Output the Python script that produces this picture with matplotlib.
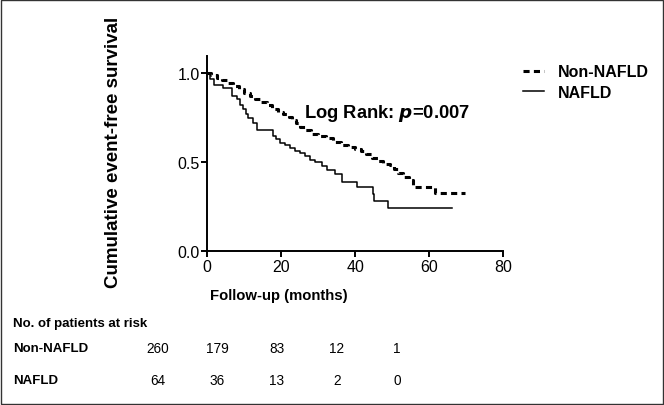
"""Kaplan-Meier style event-free survival: Non-NAFLD vs NAFLD."""

import matplotlib
matplotlib.use('Agg')
import matplotlib.pyplot as plt
from matplotlib.patches import Rectangle

# step curves (months, cumulative event-free survival)
non_nafld_t = [0, 1, 2.5, 4, 5.5, 7, 8.5, 10, 11.5, 13, 14.5, 16, 17.5, 19, 20.5,
               22, 23, 24, 25, 26.5, 28, 30, 32, 34, 36, 38, 40, 41.5, 43, 44.5,
               46, 47.5, 49.5, 50.5, 51.5, 53, 54.5, 55.5, 61.5, 69.6]
non_nafld_s = [1.0, 0.99, 0.975, 0.96, 0.945, 0.93, 0.91, 0.89, 0.87, 0.855, 0.84,
               0.82, 0.80, 0.785, 0.77, 0.755, 0.74, 0.72, 0.70, 0.68, 0.66, 0.65,
               0.635, 0.615, 0.598, 0.585, 0.575, 0.565, 0.545, 0.525, 0.505, 0.49,
               0.485, 0.46, 0.44, 0.42, 0.40, 0.36, 0.33, 0.33]

nafld_t = [0, 0.7, 1.9, 4.3, 6.6, 7.9, 8.8, 9.7, 10.5, 11.1, 12.4, 13.3, 17.8,
           18.7, 19.6, 21, 22.3, 23.7, 25, 26.4, 27.7, 29.2, 30.9, 32.4, 34.5,
           36.3, 40.4, 44.7, 45.1, 48.8, 66]
nafld_s = [1.0, 0.97, 0.935, 0.915, 0.87, 0.855, 0.82, 0.80, 0.77, 0.75, 0.72,
           0.68, 0.65, 0.63, 0.61, 0.595, 0.58, 0.565, 0.55, 0.535, 0.515, 0.50,
           0.48, 0.455, 0.434, 0.391, 0.36, 0.322, 0.284, 0.242, 0.242]

# numbers at risk
risk_groups = ['Non-NAFLD', 'NAFLD']
risk_non_nafld = [260, 179, 83, 12, 1]
risk_nafld = [64, 36, 13, 2, 0]

W, H = 664, 406


def fx(px):
    return px / W


def fy(py):
    return 1 - py / H


plt.rcParams['font.family'] = ['Liberation Sans', 'DejaVu Sans']

fig = plt.figure(figsize=(W / 100, H / 100), dpi=100)
fig.patches.append(Rectangle((fx(1), fy(H - 1)), fx(W - 2), (H - 2) / H,
                             transform=fig.transFigure, fill=False,
                             edgecolor='#333333', lw=1.0))

ax = fig.add_axes([fx(207.3), fy(252.3), fx(296), 195.8 / H])
ax.plot(non_nafld_t, non_nafld_s, drawstyle='steps-post', color='black',
        lw=2.2, dashes=(2.0, 1.4), label='Non-NAFLD')
ax.plot(nafld_t, nafld_s, drawstyle='steps-post', color='black',
        lw=1.1, label='NAFLD')

ax.set_xlim(0, 80)
ax.set_ylim(0, 1.1)
ax.set_xticks([0, 20, 40, 60, 80])
ax.set_yticks([0.0, 0.5, 1.0])
ax.set_yticklabels(['0.0', '0.5', '1.0'])
for s in ['top', 'right']:
    ax.spines[s].set_visible(False)
for s in ['left', 'bottom']:
    ax.spines[s].set_linewidth(1.4)
ax.tick_params(direction='out', length=4, width=1.4, labelsize=11.5, pad=1.5)

ax.set_xlabel('Follow-up (months)', fontsize=10.7, fontweight='bold')
ax.xaxis.set_label_coords(0.242, -0.185)
ax.set_ylabel('Cumulative event-free survival', fontsize=13.5,
              fontweight='bold')
ax.yaxis.set_label_coords(-0.288, 0.512)

ax.text(26.1, 0.777, 'Log Rank: $\\boldsymbol{p}$=0.007', fontsize=13.2,
        fontweight='bold', va='center', ha='left')

ax.legend(loc='upper left', bbox_to_anchor=(fx(517), fy(59)),
          bbox_transform=fig.transFigure, frameon=False,
          prop=dict(weight='bold', size=11.5), handlelength=1.3,
          handletextpad=0.85, labelspacing=0.35, borderaxespad=0)

# risk table
fig.text(fx(13), fy(324), 'No. of patients at risk', fontsize=9.5,
         fontweight='bold', va='center')
risk_x = [158, 217, 277, 337, 397]
for row_y, name, counts in zip([349, 381], risk_groups,
                               [risk_non_nafld, risk_nafld]):
    fig.text(fx(13), fy(row_y), name, fontsize=9.5, fontweight='bold',
             va='center')
    for xp, n in zip(risk_x, counts):
        fig.text(fx(xp), fy(row_y), str(n), fontsize=9.8,
                 ha='center', va='center')

fig.savefig('out.png', dpi=100)
